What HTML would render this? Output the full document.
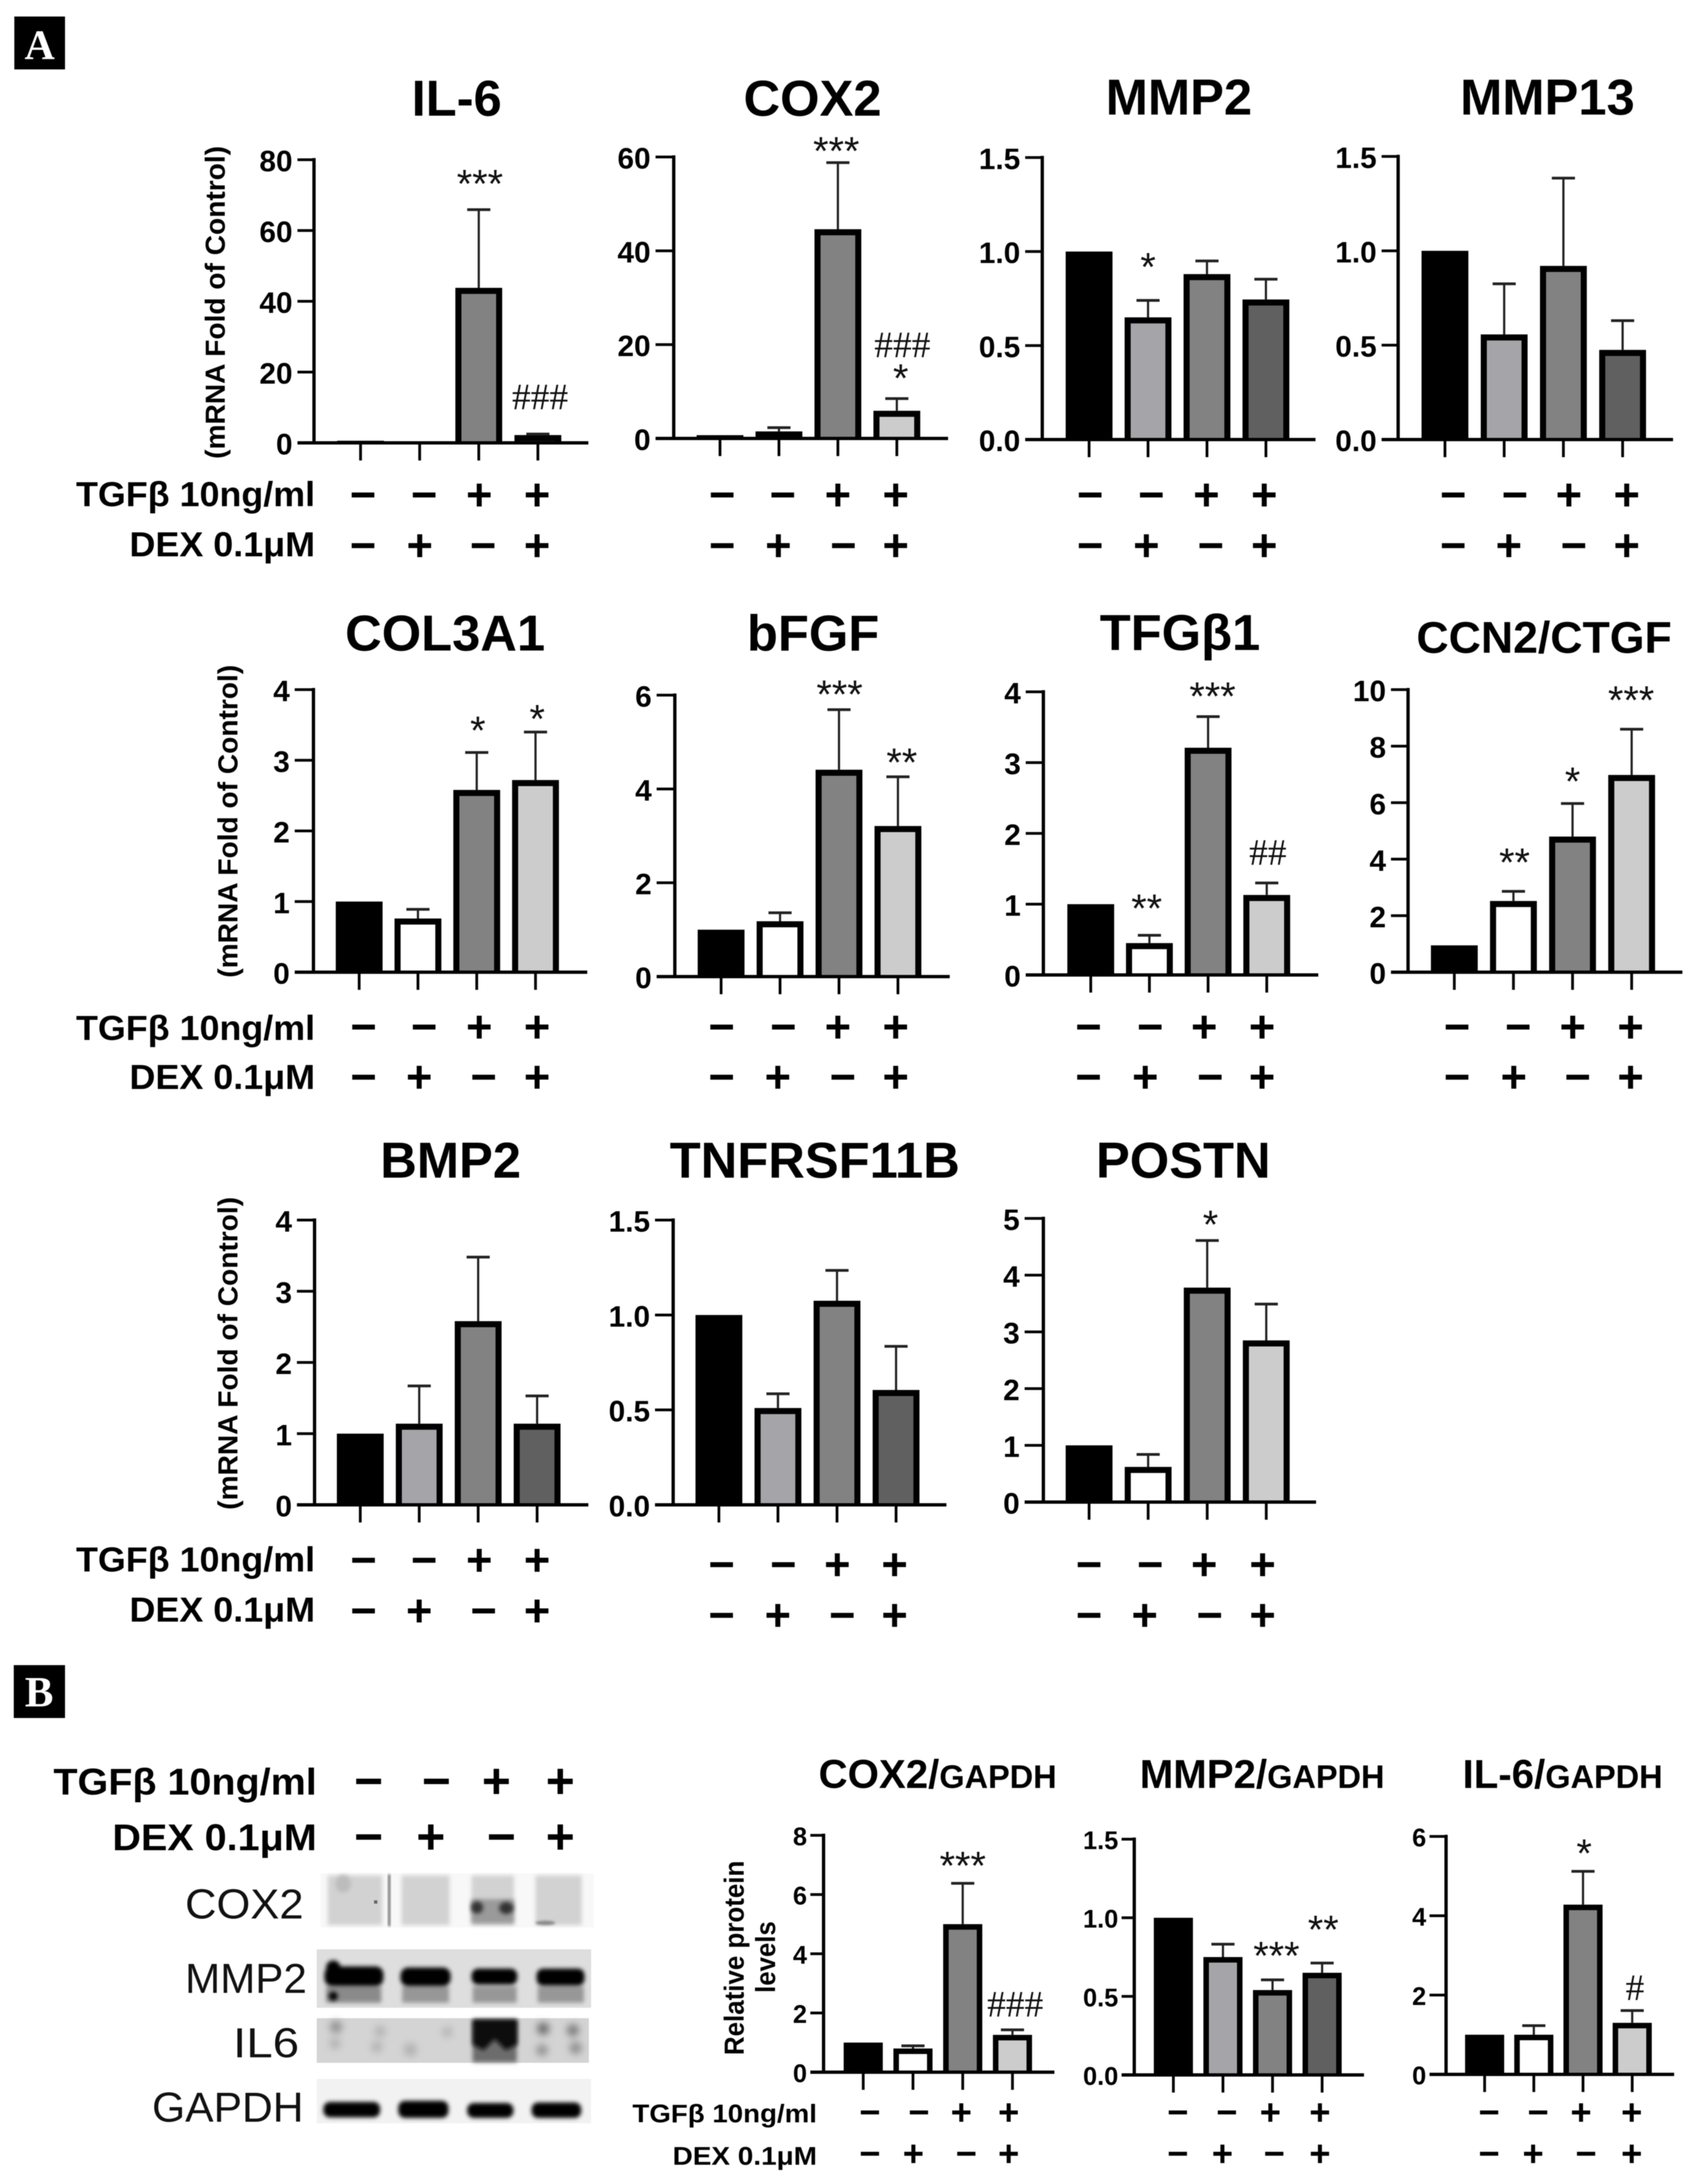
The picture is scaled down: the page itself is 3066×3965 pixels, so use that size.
<!DOCTYPE html>
<html lang="en">
<head>
<meta charset="utf-8">
<title>TGF-beta and DEX gene and protein expression</title>
<style>
html,body{margin:0;padding:0;background:#fff;}
svg{display:block;filter:blur(0.8px);}
.title{font:bold 92px "Liberation Sans",sans-serif;text-anchor:middle;fill:#000;}
.ylab{font:bold 50px "Liberation Sans",sans-serif;fill:#000;}
.cond{font:bold 63px "Liberation Sans",sans-serif;fill:#000;}
.mark{font:bold 82px "Liberation Sans",sans-serif;text-anchor:middle;fill:#000;}
.blot{font:76px "Liberation Sans",sans-serif;fill:#111;}
.sub{font:bold 73px "Liberation Sans",sans-serif;fill:#000;}
</style>
</head>
<body>
<svg id="fig" xmlns="http://www.w3.org/2000/svg" width="3066" height="3965" viewBox="0 0 3066 3965">
<defs>
<filter id="b2" x="-20%" y="-50%" width="140%" height="200%"><feGaussianBlur stdDeviation="2"/></filter>
<filter id="b4" x="-30%" y="-60%" width="160%" height="220%"><feGaussianBlur stdDeviation="4"/></filter>
<filter id="b8" x="-60%" y="-80%" width="220%" height="260%"><feGaussianBlur stdDeviation="7"/></filter>
</defs>
<rect x="0" y="0" width="3066" height="3965" fill="#fff"/>

<g>
<rect x="26" y="30" width="92" height="96" fill="#000"/>
<text x="72" y="107" font-family="Liberation Serif,serif" font-weight="bold" font-size="76" fill="#fff" text-anchor="middle">A</text>
</g>
<g>
<rect x="25" y="3023" width="93" height="96" fill="#000"/>
<text x="71" y="3098" font-family="Liberation Serif,serif" font-weight="bold" font-size="78" fill="#fff" text-anchor="middle">B</text>
</g>

<g>
<text class="title" x="829" y="210">IL-6</text>
<text class="title" x="1475" y="210">COX2</text>
<text class="title" x="2140" y="208">MMP2</text>
<text class="title" x="2809" y="208">MMP13</text>
<text class="title" x="808" y="1181">COL3A1</text>
<text class="title" x="1476" y="1181">bFGF</text>
<text class="title" x="2142" y="1180">TFGβ1</text>
<text class="title" x="2803" y="1185" style="font-size:81px">CCN2/CTGF</text>
<text class="title" x="818" y="2138">BMP2</text>
<text class="title" x="1479" y="2138">TNFRSF11B</text>
<text class="title" x="2148" y="2138">POSTN</text>
<text class="sub" x="1486" y="3246">COX2/<tspan font-size="59">GAPDH</tspan></text>
<text class="sub" x="2069" y="3246">MMP2/<tspan font-size="59">GAPDH</tspan></text>
<text class="sub" x="2655" y="3246">IL-6/<tspan font-size="59">GAPDH</tspan></text>
</g>

<g>
<text class="ylab" transform="translate(408,833) rotate(-90)" textLength="568" lengthAdjust="spacingAndGlyphs">(mRNA Fold of Control)</text>
<text class="ylab" transform="translate(431,1775) rotate(-90)" textLength="568" lengthAdjust="spacingAndGlyphs">(mRNA Fold of Control)</text>
<text class="ylab" transform="translate(431,2741) rotate(-90)" textLength="568" lengthAdjust="spacingAndGlyphs">(mRNA Fold of Control)</text>
<text class="ylab" transform="translate(1350,3731) rotate(-90)" textLength="353" lengthAdjust="spacingAndGlyphs">Relative protein</text>
<text class="ylab" transform="translate(1407,3618) rotate(-90)" textLength="130" lengthAdjust="spacingAndGlyphs">levels</text>
</g>

<g>
<text class="cond" x="138" y="919" textLength="434" lengthAdjust="spacingAndGlyphs">TGFβ 10ng/ml</text>
<text class="cond" x="235" y="1010" textLength="337" lengthAdjust="spacingAndGlyphs">DEX 0.1μM</text>
<text class="cond" x="138" y="1888" textLength="434" lengthAdjust="spacingAndGlyphs">TGFβ 10ng/ml</text>
<text class="cond" x="235" y="1977" textLength="337" lengthAdjust="spacingAndGlyphs">DEX 0.1μM</text>
<text class="cond" x="138" y="2853" textLength="434" lengthAdjust="spacingAndGlyphs">TGFβ 10ng/ml</text>
<text class="cond" x="235" y="2944" textLength="337" lengthAdjust="spacingAndGlyphs">DEX 0.1μM</text>
<text class="cond" x="97" y="3258" style="font-size:68px" textLength="478" lengthAdjust="spacingAndGlyphs">TGFβ 10ng/ml</text>
<text class="cond" x="204" y="3359" style="font-size:68px" textLength="371" lengthAdjust="spacingAndGlyphs">DEX 0.1μM</text>
<text class="cond" x="1148" y="3853" style="font-size:46px" textLength="335" lengthAdjust="spacingAndGlyphs">TGFβ 10ng/ml</text>
<text class="cond" x="1221" y="3930" style="font-size:46px" textLength="262" lengthAdjust="spacingAndGlyphs">DEX 0.1μM</text>
</g>

<g>
<text class="mark" x="659 770 870 975" y="926">−−++</text>
<text class="mark" x="659 762 877 975" y="1018">−+−+</text>
<text class="mark" x="1311 1421 1521 1626" y="926">−−++</text>
<text class="mark" x="1311 1413 1531 1626" y="1018">−+−+</text>
<text class="mark" x="1979 2090 2190 2295" y="926">−−++</text>
<text class="mark" x="1979 2081 2198 2295" y="1018">−+−+</text>
<text class="mark" x="2638 2750 2848 2953" y="926">−−++</text>
<text class="mark" x="2638 2739 2857 2953" y="1018">−+−+</text>

<text class="mark" x="660 770 870 975" y="1892">−−++</text>
<text class="mark" x="660 761 878 975" y="1983">−+−+</text>
<text class="mark" x="1310 1422 1521 1626" y="1892">−−++</text>
<text class="mark" x="1310 1412 1530 1626" y="1983">−+−+</text>
<text class="mark" x="1976 2088 2186 2291" y="1892">−−++</text>
<text class="mark" x="1976 2079 2197 2291" y="1983">−+−+</text>
<text class="mark" x="2645 2756 2855 2960" y="1892">−−++</text>
<text class="mark" x="2645 2748 2864 2960" y="1983">−+−+</text>

<text class="mark" x="660 770 870 975" y="2860">−−++</text>
<text class="mark" x="660 761 878 975" y="2952">−+−+</text>
<text class="mark" x="1310 1422 1520 1624" y="2868">−−++</text>
<text class="mark" x="1310 1412 1529 1624" y="2960">−+−+</text>
<text class="mark" x="1977 2088 2186 2292" y="2868">−−++</text>
<text class="mark" x="1977 2078 2196 2292" y="2960">−+−+</text>

<text class="mark" style="font-size:90px" x="669 792 901 1017" y="3264">−−++</text>
<text class="mark" style="font-size:90px" x="669 782 910 1017" y="3365">−+−+</text>

<text class="mark" style="font-size:66px" x="1579 1668 1745 1831" y="3857">−−++</text>
<text class="mark" style="font-size:66px" x="1579 1658 1754 1831" y="3932">−+−+</text>
<text class="mark" style="font-size:66px" x="2138 2227 2306 2396" y="3857">−−++</text>
<text class="mark" style="font-size:66px" x="2138 2219 2313 2396" y="3932">−+−+</text>
<text class="mark" style="font-size:66px" x="2703 2792 2870 2962" y="3857">−−++</text>
<text class="mark" style="font-size:66px" x="2703 2783 2879 2962" y="3932">−+−+</text>
</g>

<g>
<text class="blot" x="336" y="3483" textLength="215" lengthAdjust="spacingAndGlyphs">COX2</text>
<text class="blot" x="336" y="3618" textLength="221" lengthAdjust="spacingAndGlyphs">MMP2</text>
<text class="blot" x="423" y="3735" textLength="120" lengthAdjust="spacingAndGlyphs">IL6</text>
<text class="blot" x="276" y="3852" textLength="275" lengthAdjust="spacingAndGlyphs">GAPDH</text>
</g>

<g>
<rect x="582" y="3401" width="496" height="98" fill="#f8f8f8"/>
<g fill="#d2d2d2" filter="url(#b4)">
<rect x="595" y="3405" width="99" height="90"/>
<rect x="729" y="3405" width="87" height="90"/>
<rect x="856" y="3405" width="77" height="90"/>
<rect x="972" y="3405" width="84" height="90"/>
</g>
<rect x="704" y="3403" width="5" height="94" fill="#777" filter="url(#b2)"/>
<ellipse cx="623" cy="3420" rx="14" ry="16" fill="#bcbcbc" filter="url(#b4)"/>
<rect x="679" y="3450" width="6" height="6" fill="#666"/>
<rect x="856" y="3448" width="77" height="44" fill="#9a9a9a" filter="url(#b4)"/>
<ellipse cx="866" cy="3463" rx="11" ry="11" fill="#333" filter="url(#b4)"/>
<ellipse cx="919" cy="3464" rx="13" ry="11" fill="#333" filter="url(#b4)"/>
<ellipse cx="990" cy="3491" rx="18" ry="4" fill="#888" filter="url(#b2)"/>
</g>

<g>
<rect x="575" y="3539" width="498" height="106" fill="#dedede"/>
<g fill="#979797" filter="url(#b4)">
<rect x="592" y="3606" width="100" height="30" fill="#8a8a8a"/>
<rect x="730" y="3606" width="85" height="30"/>
<rect x="858" y="3606" width="80" height="30"/>
<rect x="976" y="3606" width="84" height="30"/>
</g>
<g fill="#000" filter="url(#b4)">
<rect x="589" y="3570" width="107" height="36" rx="14"/>
<rect x="727" y="3572" width="91" height="34" rx="14"/>
<rect x="856" y="3574" width="83" height="29" rx="12"/>
<rect x="974" y="3574" width="87" height="31" rx="12"/>
<circle cx="605" cy="3624" r="8"/>
<circle cx="605" cy="3572" r="13"/>
</g>
</g>

<g>
<rect x="575" y="3664" width="494" height="81" fill="#d4d4d4"/>
<g fill="#b0b0b0" filter="url(#b8)">
<circle cx="610" cy="3680" r="11" fill="#8e8e8e"/>
<circle cx="690" cy="3688" r="10"/>
<circle cx="608" cy="3710" r="10"/>
<circle cx="684" cy="3716" r="10"/>
<circle cx="745" cy="3721" r="12"/>
<circle cx="812" cy="3689" r="9"/>
</g>
<rect x="858" y="3668" width="80" height="76" fill="#6c6c6c" filter="url(#b4)"/>
<path d="M858 3666H939V3712L918 3722L898 3702L878 3722L858 3712Z" fill="#0c0c0c" filter="url(#b4)"/>
<g fill="#8a8a8a" filter="url(#b8)">
<circle cx="986" cy="3683" r="11" fill="#666"/>
<circle cx="1040" cy="3686" r="11" fill="#777"/>
<circle cx="984" cy="3722" r="10"/>
<circle cx="1045" cy="3718" r="11"/>
</g>
</g>

<g>
<rect x="575" y="3774" width="498" height="81" fill="#f2f2f2"/>
<g fill="#000" filter="url(#b4)">
<rect x="587" y="3816" width="103" height="28" rx="12"/>
<rect x="723" y="3814" width="91" height="31" rx="12"/>
<rect x="848" y="3818" width="84" height="27" rx="12"/>
<rect x="965" y="3817" width="90" height="28" rx="12"/>
</g>
</g>

<g id="charts"></g>
</svg>

<script>
// ---- chart data ----
const il6Values = [0.6, 0.4, 43.8, 2.2];
const il6Errors = [0, 0, 22.1, 0.3];
const il6Ticks = ['0', '20', '40', '60', '80'];
const il6Notes = [[2, '***', 2, 58], [3, '###', 4, 66]];

const cox2Values = [0.7, 1.5, 44.6, 5.9];
const cox2Errors = [0, 0.8, 14.2, 2.6];
const cox2Ticks = ['0', '20', '40', '60'];
const cox2Notes = [[2, '***', -3, 32], [3, '###', 10, 96], [3, '*', 7, 48]];

const mmp2Values = [1.0, 0.65, 0.88, 0.745];
const mmp2Errors = [0, 0.09, 0.07, 0.108];
const mmp2Ticks = ['0.0', '0.5', '1.0', '1.5'];
const mmp2Notes = [[1, '*', 0, 72]];

const mmp13Values = [1.0, 0.557, 0.92, 0.475];
const mmp13Errors = [0, 0.268, 0.465, 0.155];
const mmp13Ticks = ['0.0', '0.5', '1.0', '1.5'];
const mmp13Notes = [];

const col3a1Values = [1.0, 0.76, 2.58, 2.72];
const col3a1Errors = [0, 0.13, 0.53, 0.68];
const col3a1Ticks = ['0', '1', '2', '3', '4'];
const col3a1Notes = [[2, '*', 2, 51], [3, '*', 3, 35]];

const bfgfValues = [1.0, 1.18, 4.41, 3.21];
const bfgfErrors = [0, 0.18, 1.28, 1.05];
const bfgfTicks = ['0', '2', '4', '6'];
const bfgfNotes = [[2, '***', 1, 39], [3, '**', 7, 37]];

const tgfb1Values = [1.0, 0.45, 3.21, 1.13];
const tgfb1Errors = [0, 0.11, 0.44, 0.17];
const tgfb1Ticks = ['0', '1', '2', '3', '4'];
const tgfb1Notes = [[1, '**', -5, 60], [2, '***', 8, 48], [3, '##', 2, 54]];

const ccn2Values = [0.95, 2.52, 4.8, 6.98];
const ccn2Errors = [0, 0.34, 1.17, 1.62];
const ccn2Ticks = ['0', '2', '4', '6', '8', '10'];
const ccn2Notes = [[1, '**', 2, 64], [2, '*', 0, 51], [3, '***', -1, 64]];

const bmp2Values = [1.0, 1.14, 2.58, 1.14];
const bmp2Errors = [0, 0.53, 0.9, 0.39];
const bmp2Ticks = ['0', '1', '2', '3', '4'];
const bmp2Notes = [];

const tnfValues = [1.0, 0.51, 1.075, 0.605];
const tnfErrors = [0, 0.075, 0.16, 0.23];
const tnfTicks = ['0.0', '0.5', '1.0', '1.5'];
const tnfNotes = [];

const postnValues = [1.0, 0.62, 3.78, 2.85];
const postnErrors = [0, 0.22, 0.83, 0.64];
const postnTicks = ['0', '1', '2', '3', '4', '5'];
const postnNotes = [[2, '*', 6, 40]];

const cox2ProteinValues = [1.0, 0.8, 5.0, 1.26];
const cox2ProteinErrors = [0, 0.09, 1.38, 0.17];
const cox2ProteinTicks = ['0', '2', '4', '6', '8'];
const cox2ProteinNotes = [[2, '***', 0, 43], [3, '###', 5, 45]];

const mmp2ProteinValues = [1.0, 0.75, 0.54, 0.65];
const mmp2ProteinErrors = [0, 0.082, 0.065, 0.062];
const mmp2ProteinTicks = ['0.0', '0.5', '1.0', '1.5'];
const mmp2ProteinNotes = [[2, '***', 7, 55], [3, '**', 2, 72]];

const il6ProteinValues = [1.0, 1.0, 4.28, 1.3];
const il6ProteinErrors = [0, 0.23, 0.84, 0.31];
const il6ProteinTicks = ['0', '2', '4', '6'];
const il6ProteinNotes = [[2, '*', 2, 44], [3, '#', 5, 40]];

const fillsWhite = ['#000000', '#ffffff', '#828282', '#cccccc'];
const fillsGrey = ['#000000', '#a5a5a9', '#828282', '#606060'];
const fillsCox2 = ['#000000', '#828282', '#828282', '#cccccc'];

// ---- frame geometry of each chart (separate from the data) ----
const charts = [
  {key:'il6', values:il6Values, errors:il6Errors, ticks:il6Ticks, notes:il6Notes, fills:fillsWhite, ax:570, top:290, base:804, left:540, right:1068, x0:654.5, step:107.3, w:85},
  {key:'cox2', values:cox2Values, errors:cox2Errors, ticks:cox2Ticks, notes:cox2Notes, fills:fillsCox2, ax:1223, top:285, base:796, left:1190, right:1721, x0:1307, step:107, w:85},
  {key:'mmp2', values:mmp2Values, errors:mmp2Errors, ticks:mmp2Ticks, notes:mmp2Notes, fills:fillsGrey, ax:1892, top:286, base:798, left:1861, right:2388, x0:1977, step:107, w:85},
  {key:'mmp13', values:mmp13Values, errors:mmp13Errors, ticks:mmp13Ticks, notes:mmp13Notes, fills:fillsGrey, ax:2538, top:284, base:798, left:2508, right:3037, x0:2623, step:107.5, w:85},
  {key:'col3a1', values:col3a1Values, errors:col3a1Errors, ticks:col3a1Ticks, notes:col3a1Notes, fills:fillsWhite, ax:569, top:1252, base:1765, left:535, right:1066, x0:652, step:106.7, w:85},
  {key:'bfgf', values:bfgfValues, errors:bfgfErrors, ticks:bfgfTicks, notes:bfgfNotes, fills:fillsWhite, ax:1225, top:1262, base:1773, left:1192, right:1724, x0:1309, step:107, w:85},
  {key:'tgfb1', values:tgfb1Values, errors:tgfb1Errors, ticks:tgfb1Ticks, notes:tgfb1Notes, fills:fillsWhite, ax:1894, top:1256, base:1770, left:1862, right:2393, x0:1980, step:106.5, w:85},
  {key:'ccn2', values:ccn2Values, errors:ccn2Errors, ticks:ccn2Ticks, notes:ccn2Notes, fills:fillsWhite, ax:2556, top:1252, base:1765, left:2525, right:3054, x0:2640, step:107.3, w:85},
  {key:'bmp2', values:bmp2Values, errors:bmp2Errors, ticks:bmp2Ticks, notes:bmp2Notes, fills:fillsGrey, ax:571, top:2215, base:2732, left:539, right:1068, x0:654, step:107, w:85},
  {key:'tnfrsf11b', values:tnfValues, errors:tnfErrors, ticks:tnfTicks, notes:tnfNotes, fills:fillsGrey, ax:1222, top:2215, base:2732, left:1189, right:1718, x0:1305, step:107.2, w:85},
  {key:'postn', values:postnValues, errors:postnErrors, ticks:postnTicks, notes:postnNotes, fills:fillsWhite, ax:1894, top:2212, base:2727, left:1860, right:2389, x0:1977, step:107.2, w:85},
  {key:'cox2-protein', values:cox2ProteinValues, errors:cox2ProteinErrors, ticks:cox2ProteinTicks, notes:cox2ProteinNotes, fills:fillsWhite, ax:1495, top:3332, base:3762, left:1471, right:1914, x0:1567, step:90.3, w:71, small:true},
  {key:'mmp2-protein', values:mmp2ProteinValues, errors:mmp2ProteinErrors, ticks:mmp2ProteinTicks, notes:mmp2ProteinNotes, fills:fillsGrey, ax:2059, top:3339, base:3767, left:2036, right:2476, x0:2130, step:90, w:71, small:true},
  {key:'il6-protein', values:il6ProteinValues, errors:il6ProteinErrors, ticks:il6ProteinTicks, notes:il6ProteinNotes, fills:fillsWhite, ax:2625, top:3334, base:3766, left:2595, right:3039, x0:2695, step:89.3, w:71, small:true}
];

const SVG_NS = 'http://www.w3.org/2000/svg';
const root = document.getElementById('charts');

function mk(tag, attrs, parent) {
  const el = document.createElementNS(SVG_NS, tag);
  Object.keys(attrs).forEach(function (k) { el.setAttribute(k, attrs[k]); });
  parent.appendChild(el);
  return el;
}

charts.forEach(function (c) {
  const domainMax = Number(c.ticks[c.ticks.length - 1]);
  const y = function (v) { return c.base - (v / domainMax) * (c.base - c.top); };
  const x = function (i) { return c.x0 + i * c.step; };
  const sw = c.small ? 10 : 11;

  const g = mk('g', {}, root);
  
  

  // bars
  c.values.forEach(function (v, i) {
    const barTop = y(v);
    const bar = mk('g', {}, g);
    
    
    const outer = mk('rect', {x: x(i) - c.w / 2, y: barTop, width: c.w, height: c.base - barTop, fill: '#000'}, bar);
    
    
    const innerH = c.base - barTop - sw;
    if (innerH > 0 && c.fills[i] !== '#000000') {
      const inner = mk('rect', {x: x(i) - c.w / 2 + sw, y: barTop + sw, width: c.w - 2 * sw, height: innerH, fill: c.fills[i]}, bar);
      
      
    }
  });

  // error bars
  c.errors.forEach(function (e, i) {
    if (e <= 0) return;
    const hi = y(c.values[i] + e);
    const err = mk('g', {stroke: '#222'}, g);
    
    
    const stem = mk('line', {x1: x(i), x2: x(i), y1: y(c.values[i]), y2: hi, 'stroke-width': 4}, err);
    
    
    const cap = mk('line', {x1: x(i) - 21, x2: x(i) + 21, y1: hi, y2: hi, 'stroke-width': 5}, err);
    
    
  });

  // axes
  const yAxis = mk('line', {x1: c.ax, x2: c.ax, y1: c.top - 3, y2: c.base + 3, stroke: '#000', 'stroke-width': 6}, g);
  
  
  const xAxis = mk('line', {x1: c.left, x2: c.right, y1: c.base, y2: c.base, stroke: '#000', 'stroke-width': 6}, g);
  
  

  // y ticks and labels
  const fs = c.small ? 46 : 54;
  c.ticks.forEach(function (t) {
    const ty = y(Number(t));
    const tick = mk('line', {x1: c.left, x2: c.ax, y1: ty, y2: ty, stroke: '#000', 'stroke-width': 5}, g);
    
    
    const label = mk('text', {x: c.left - (c.small ? 6 : 9), y: ty + fs * 0.39, 'text-anchor': 'end', 'font-family': 'Liberation Sans, sans-serif', 'font-weight': 'bold', 'font-size': fs, fill: '#000'}, g);
    label.textContent = t;
    
    
  });

  // x ticks
  c.values.forEach(function (v, i) {
    const tick = mk('line', {x1: x(i), x2: x(i), y1: c.base, y2: c.base + 32, stroke: '#000', 'stroke-width': 5}, g);
    
    
  });

  // significance notes, placed relative to the top of each error bar
  c.notes.forEach(function (n) {
    const i = n[0], txt = n[1], dx = n[2], gap = n[3];
    const cy = y(c.values[i] + c.errors[i]) - gap;
    const isStar = txt.charAt(0) === '*';
    const note = mk('text', {
      x: x(i) + dx,
      y: cy + (isStar ? 36 : 21),
      'text-anchor': 'middle',
      'font-family': isStar ? 'Liberation Sans, sans-serif' : 'Liberation Serif, serif',
      'font-size': isStar ? 72 : 68,
      fill: '#111'
    }, g);
    note.textContent = txt;
    
    
  });
});
</script>
</body>
</html>
